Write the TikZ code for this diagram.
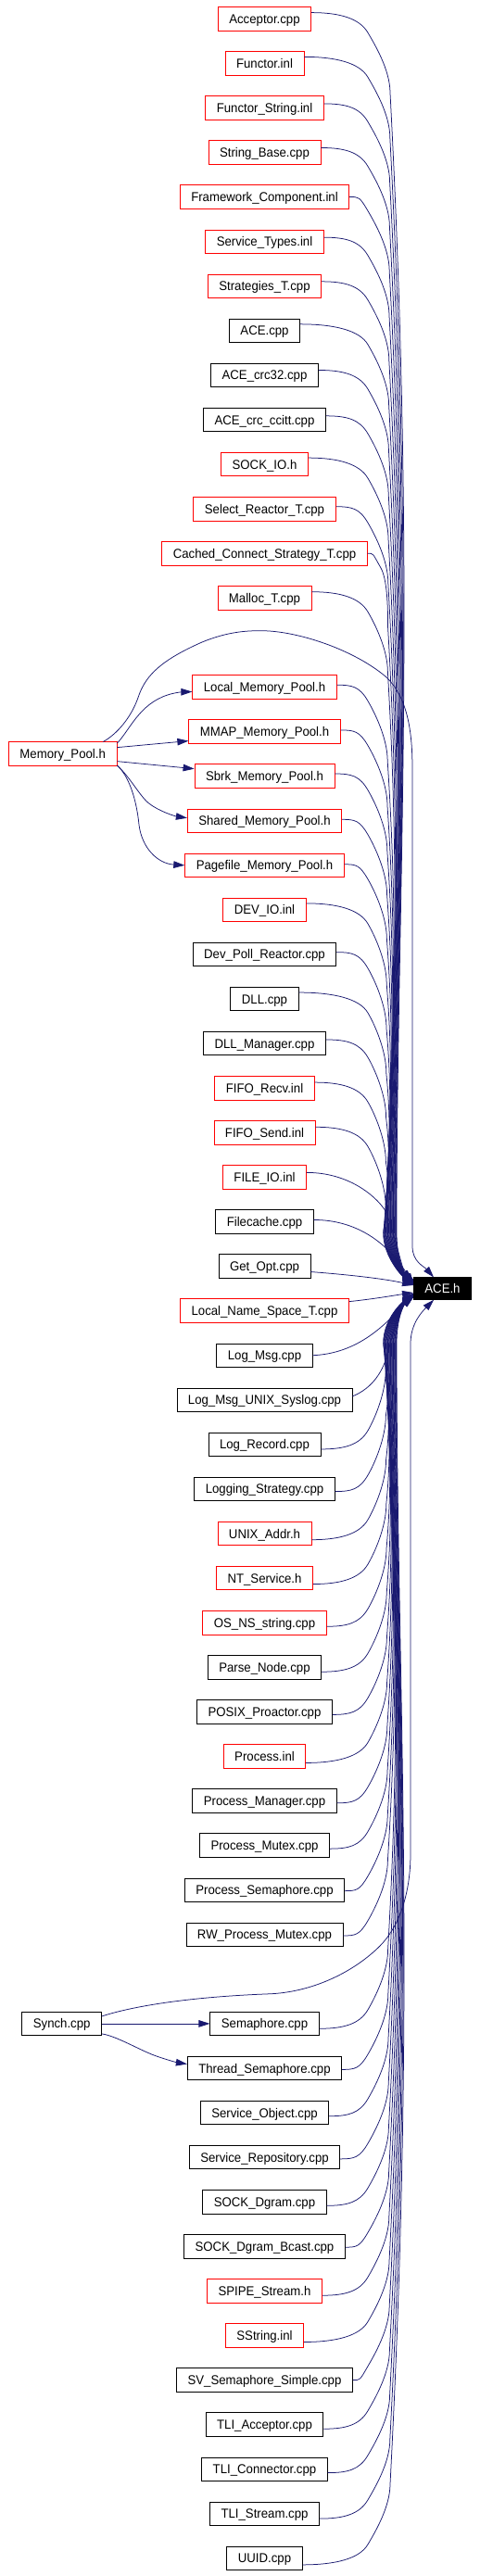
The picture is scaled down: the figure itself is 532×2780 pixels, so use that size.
\documentclass[tikz,border=0pt]{standalone}
\usepackage{fontspec}
\setmainfont{Liberation Sans}[FakeStretch=0.943]
\usetikzlibrary{arrows.meta,calc}
\definecolor{edgec}{HTML}{191970}
\definecolor{boxred}{HTML}{FF0000}
\tikzset{
  filebox/.style={draw, line width=0.85pt, minimum height=25.5pt, inner xsep=12pt, inner ysep=0pt,
    text height=10pt, text depth=0pt, font=\fontsize{14pt}{16pt}\selectfont, fill=white},
  redbox/.style={filebox, draw=boxred},
  blackbox/.style={filebox, draw=black},
  edge/.style={draw=edgec, line width=0.75pt, -{Triangle[length=12pt,width=7.5pt]}},
}
% upper edges: #1 node, #2 lane index k (0 = outermost)
\newcommand\upedge[2]{%
  \draw[edge] let \p1=(#1.east),
    \n1={min(7,max(0,(378-\x1)*0.16))},
    \n2={max(397,\x1+14)},
    \n3={421-0.2*#2},
    \n4={450-1.2*#2},
    \n5={428-0.6*#2},
    \n6={\y1+1250},
    \n7={9.5-0.25*#2}
  in (\x1,\y1+\n1) .. controls ({(\x1+\n2)/2},\y1+\n1) and (\n2-9,\y1+0.5) .. (\n2,\y1-15)
     .. controls (\n2+7,\y1-27) and (\n3,\y1-55) .. (\n3,\y1-80)
     .. controls (\n4,{\y1-80-0.45*\n6}) and (\n5,{-1330+0.3*\n6}) .. (\n5,-1330)
     .. controls (\n5,-1358) and ($(ace.west)+(-10,\n7+8)$) .. ($(ace.west)+(0,\n7)$);
}
% lower edges: #1 node, #2 lane index m (0 = outermost)
\newcommand\downedge[2]{%
  \draw[edge] let \p1=(#1.east),
    \n1={min(7,max(0,(378-\x1)*0.16))},
    \n2={max(397,\x1+14)},
    \n3={421-0.2*#2},
    \n4={450-1.2*#2},
    \n5={428-0.6*#2},
    \n6={-1450-\y1-80},
    \n7={-9.4+0.18*#2}
  in (\x1,\y1-\n1) .. controls ({(\x1+\n2)/2},\y1-\n1) and (\n2-9,\y1-0.5) .. (\n2,\y1+15)
     .. controls (\n2+7,\y1+27) and (\n3,\y1+55) .. (\n3,\y1+80)
     .. controls (\n4,{\y1+80+0.45*\n6}) and (\n5,{-1450-0.3*\n6}) .. (\n5,-1450)
     .. controls (\n5,-1422) and ($(ace.west)+(-10,\n7-8)$) .. ($(ace.west)+(0,\n7)$);
}
\begin{document}
\begin{tikzpicture}[x=1pt,y=1pt]
\useasboundingbox (0,0) rectangle (532,-2780);
\fill[white] (0,0) rectangle (532,-2780);

% column of upper files
\foreach \t/\st/\s [count=\i from 0] in {
  Acceptor.cpp/redbox/0,
  Functor.inl/redbox/1,
  Functor\_String.inl/redbox/2,
  String\_Base.cpp/redbox/3,
  Framework\_Component.inl/redbox/4,
  Service\_Types.inl/redbox/5,
  Strategies\_T.cpp/redbox/6,
  ACE.cpp/blackbox/7,
  ACE\_crc32.cpp/blackbox/8,
  ACE\_crc\_ccitt.cpp/blackbox/9,
  SOCK\_IO.h/redbox/10,
  Select\_Reactor\_T.cpp/redbox/11,
  Cached\_Connect\_Strategy\_T.cpp/redbox/12,
  Malloc\_T.cpp/redbox/13,
  Local\_Memory\_Pool.h/redbox/15,
  MMAP\_Memory\_Pool.h/redbox/16,
  Sbrk\_Memory\_Pool.h/redbox/17,
  Shared\_Memory\_Pool.h/redbox/18,
  Pagefile\_Memory\_Pool.h/redbox/19,
  DEV\_IO.inl/redbox/20,
  Dev\_Poll\_Reactor.cpp/blackbox/21,
  DLL.cpp/blackbox/22,
  DLL\_Manager.cpp/blackbox/23,
  FIFO\_Recv.inl/redbox/24,
  FIFO\_Send.inl/redbox/25,
  FILE\_IO.inl/redbox/26,
  Filecache.cpp/blackbox/27,
  Get\_Opt.cpp/blackbox/28}
  \node[\st] (u\i) at (285.5,{-(20.3+48.08*\s)}) {\t};

% column of lower files
\foreach \t/\st/\s [count=\i from 0] in {
  Local\_Name\_Space\_T.cpp/redbox/29,
  Log\_Msg.cpp/blackbox/30,
  Log\_Msg\_UNIX\_Syslog.cpp/blackbox/31,
  Log\_Record.cpp/blackbox/32,
  Logging\_Strategy.cpp/blackbox/33,
  UNIX\_Addr.h/redbox/34,
  NT\_Service.h/redbox/35,
  OS\_NS\_string.cpp/redbox/36,
  Parse\_Node.cpp/blackbox/37,
  POSIX\_Proactor.cpp/blackbox/38,
  Process.inl/redbox/39,
  Process\_Manager.cpp/blackbox/40,
  Process\_Mutex.cpp/blackbox/41,
  Process\_Semaphore.cpp/blackbox/42,
  RW\_Process\_Mutex.cpp/blackbox/43,
  Semaphore.cpp/blackbox/45,
  Thread\_Semaphore.cpp/blackbox/46,
  Service\_Object.cpp/blackbox/47,
  Service\_Repository.cpp/blackbox/48,
  SOCK\_Dgram.cpp/blackbox/49,
  SOCK\_Dgram\_Bcast.cpp/blackbox/50,
  SPIPE\_Stream.h/redbox/51,
  SString.inl/redbox/52,
  SV\_Semaphore\_Simple.cpp/blackbox/53,
  TLI\_Acceptor.cpp/blackbox/54,
  TLI\_Connector.cpp/blackbox/55,
  TLI\_Stream.cpp/blackbox/56,
  UUID.cpp/blackbox/57}
  \node[\st] (l\i) at (285.5,{-(20.3+48.08*\s)}) {\t};

\node[redbox] (mp) at (67.7,{-(20.3+48.08*16.5)}) {Memory\_Pool.h};
\node[blackbox] (sy) at (66.7,{-(20.3+48.08*45)}) {Synch.cpp};
\node[filebox, draw=black, fill=black, text=white, minimum height=23.5pt] (ace) at (477.5,-1390.6) {ACE.h};

% generic edges into ACE.h
\foreach \k in {0,...,24} { \upedge{u\k}{\k} }
\foreach \j in {3,...,27} { \pgfmathtruncatemacro\m{27-\j} \downedge{l\j}{\m} }

% near edges (upper)
\draw[edge] let \p1=(u25.east) in (\x1,\y1+5) .. controls (\x1+45,\y1+5) and (405,\y1-20) .. (415,\y1-35)
   .. controls (425,\y1-55) and (434,-1372) .. ($(ace.west)+(0,5.6)$);
\draw[edge] let \p1=(u26.east) in (\x1,\y1+2) .. controls (\x1+45,\y1+2) and (418,-1340) .. ($(ace.west)+(0,4.6)$);
\draw[edge] let \p1=(u27.east) in (\x1,\y1-6) .. controls (\x1+40,\y1-9) and (415,-1380) .. ($(ace.west)+(0,3.6)$);
% near edges (lower)
\draw[edge] let \p1=(l0.east) in (\x1,\y1+10) .. controls (405,\y1+13) and (425,-1398) .. ($(ace.west)+(0,-4.4)$);
\draw[edge] let \p1=(l1.east) in (\x1,\y1) .. controls (\x1+45,\y1+2) and (412,-1435) .. ($(ace.west)+(0,-5.4)$);
\draw[edge] let \p1=(l2.east) in (\x1,\y1+4) .. controls (\x1+15,\y1+10) and (408,\y1+22) .. (415,\y1+40)
   .. controls (422,-1450) and (430,-1412) .. ($(ace.west)+(0,-6.4)$);

% Memory_Pool.h edges
\draw[edge] ([yshift=11.5pt]mp.east) .. controls (140,-788) and (150,-760) .. (180.8,-750)
   .. controls (190,-747) and (198,-746.7) .. ([yshift=-5pt]u14.west);
\draw[edge] ([yshift=7pt]mp.east) -- ([yshift=-10pt]u15.west);
\draw[edge] ([yshift=-8pt]mp.east) -- ([yshift=8pt]u16.west);
\draw[edge] ([yshift=-12.5pt]mp.east) .. controls (140,-838) and (150,-858) .. (160.3,-866.7)
   .. controls (172,-876) and (190,-881) .. ([yshift=3pt]u17.west);
\draw[edge] ([yshift=-12.5pt]mp.east) .. controls (138,-836) and (147,-860) .. (150,-890)
   .. controls (153,-915) and (170,-932) .. (u18.west);
\draw[edge] ([xshift=-15pt]mp.north east) .. controls (125,-793) and (142,-775) .. (150,-750)
   .. controls (158,-728) and (175,-712) .. (218,-693)
   .. controls (245,-682) and (265,-680.5) .. (283,-680.7)
   .. controls (320,-681) and (380,-700) .. (416,-730)
   .. controls (440,-752) and (445,-790) .. (445,-830)
   -- (445,-1345) .. controls (445,-1362) and (458,-1367) .. ([xshift=-9.5pt]ace.north);

% Synch.cpp edges
\draw[edge] (sy.east) -- (l15.west);
\draw[edge] ([yshift=-11pt]sy.east) .. controls (125,-2197) and (150,-2212) .. (167,-2218.3)
   .. controls (180,-2223) and (192,-2226) .. ([yshift=4.5pt]l16.west);
\draw[edge] ([yshift=8pt]sy.east) .. controls (140,-2166) and (200,-2155) .. (293,-2151.7)
   .. controls (340,-2149) and (383,-2127) .. (410,-2100)
   .. controls (430,-2080) and (443,-2045) .. (443,-2000)
   -- (443,-1450) .. controls (443,-1428) and (456,-1415) .. ([xshift=-9.5pt]ace.south);
\end{tikzpicture}
\end{document}
